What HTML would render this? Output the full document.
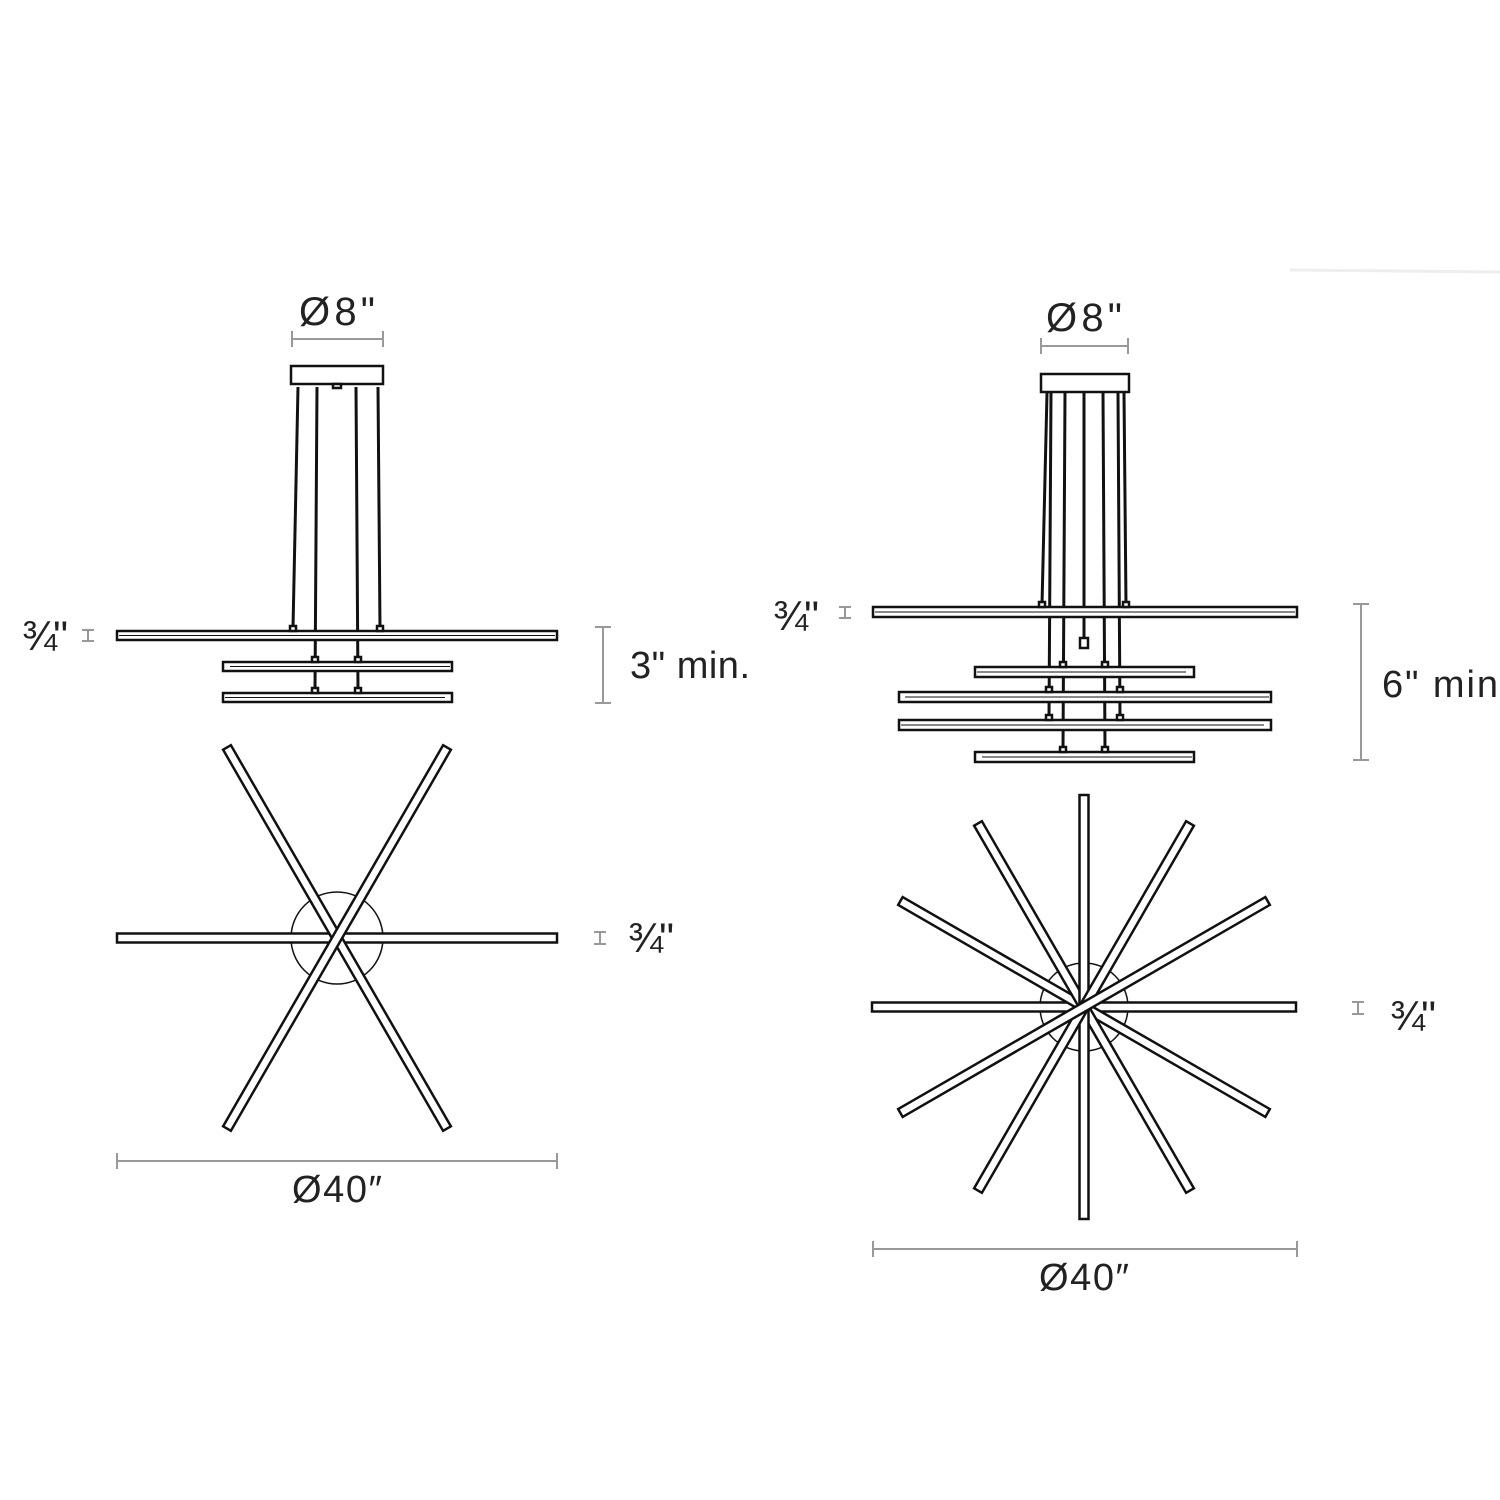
<!DOCTYPE html>
<html><head><style>html,body{margin:0;padding:0;background:#fff}svg{display:block}text{font-family:"Liberation Sans",sans-serif;fill:#222}</style></head>
<body>
<svg width="1500" height="1500" viewBox="0 0 1500 1500" xmlns="http://www.w3.org/2000/svg">
<line x1="1290" y1="270" x2="1500" y2="272" stroke="#eee" stroke-width="3"/>
<g stroke="#999" stroke-width="2" fill="none">
<path d="M292 339H383M292 331v16M383 331v16"/>
<path d="M603 627v76M595 627h16M595 703h16"/>
<path d="M88 630v11M82 630h12M82 641h12"/>
<path d="M600 932v12M594 932h12M594 944h12"/>
<path d="M117 1161H557M117 1153v16M557 1153v16"/>
<path d="M1041 346H1128M1041 338v16M1128 338v16"/>
<path d="M1361 604v156M1353 604h16M1353 760h16"/>
<path d="M845 607v11M839 607h12M839 618h12"/>
<path d="M1358 1002v12M1352 1002h12M1352 1014h12"/>
<path d="M873 1249H1297M873 1241v16M1297 1241v16"/>
</g>
<g font-size="38">
<text x="337" y="325" text-anchor="middle" textLength="76" font-size="40">Ø8"</text>
<text x="1084" y="331" text-anchor="middle" textLength="76" font-size="40">Ø8"</text>
<text x="630" y="678" textLength="120">3" min.</text>
<text x="1382" y="697" textLength="116">6" min</text>
<text x="22" y="650" font-size="42" textLength="46">¾"</text>
<text x="773" y="630" font-size="42" textLength="46">¾"</text>
<text x="628" y="952" font-size="42" textLength="46">¾"</text>
<text x="1390" y="1030" font-size="42" textLength="46">¾"</text>
<text x="337" y="1202" text-anchor="middle" textLength="90">Ø40″</text>
<text x="1084" y="1290" text-anchor="middle" textLength="90">Ø40″</text>
</g>
<g stroke="#111" stroke-width="2.5" fill="#fff">
<rect x="291" y="366" width="92" height="18"/>
<rect x="333" y="384" width="8" height="4"/>
<path d="M298 387L293 628M317 387L315 690M356 387L358 690M378 387L380 628" fill="none" stroke-width="3"/>
<rect x="117" y="631" width="440" height="9"/>
<line x1="119" y1="635.5" x2="555" y2="635.5" stroke-width="1"/>
<rect x="223" y="662" width="229" height="9"/>
<line x1="230" y1="666.5" x2="450" y2="666.5" stroke-width="1"/>
<rect x="223" y="693" width="229" height="9"/>
<line x1="225" y1="697.5" x2="445" y2="697.5" stroke-width="1"/>
<rect x="290" y="626" width="6" height="5"/><rect x="377" y="626" width="6" height="5"/>
<rect x="312" y="657" width="6" height="5"/><rect x="355" y="657" width="6" height="5"/>
<rect x="312" y="688" width="6" height="5"/><rect x="355" y="688" width="6" height="5"/>
<rect x="1041" y="374" width="88" height="18"/>
<path d="M1047 393L1042 605M1051 393L1049 718M1065 393L1063 750M1084 393L1084 638M1103 393L1105 750M1118 393L1120 718M1124 393L1126 605" fill="none" stroke-width="3"/>
<rect x="1080" y="638" width="8" height="10"/>
<rect x="873" y="607" width="424" height="10"/>
<line x1="875" y1="612" x2="1295" y2="612" stroke-width="1"/>
<rect x="975" y="667" width="219" height="10"/>
<line x1="977" y1="672" x2="1186" y2="672" stroke-width="1"/>
<rect x="899" y="692" width="372" height="10"/>
<line x1="905" y1="697" x2="1269" y2="697" stroke-width="1"/>
<rect x="899" y="720" width="372" height="10"/>
<line x1="901" y1="725" x2="1264" y2="725" stroke-width="1"/>
<rect x="975" y="752" width="219" height="10"/>
<line x1="982" y1="757" x2="1192" y2="757" stroke-width="1"/>
<rect x="1039" y="602" width="6" height="5"/><rect x="1123" y="602" width="6" height="5"/>
<rect x="1060" y="662" width="6" height="5"/><rect x="1102" y="662" width="6" height="5"/>
<rect x="1046" y="687" width="6" height="5"/><rect x="1117" y="687" width="6" height="5"/>
<rect x="1046" y="715" width="6" height="5"/><rect x="1117" y="715" width="6" height="5"/>
<rect x="1060" y="747" width="6" height="5"/><rect x="1102" y="747" width="6" height="5"/>
<circle cx="337" cy="938" r="46" stroke-width="1.5"/>
<g transform="translate(337 938)">
<rect x="-220" y="-4.5" width="440" height="9"/>
<rect x="-220" y="-4.5" width="440" height="9" transform="rotate(60)"/>
<rect x="-220" y="-4.5" width="440" height="9" transform="rotate(120)"/>
</g>
<circle cx="1084" cy="1007" r="44" stroke-width="1.5"/>
<g transform="translate(1084 1007)">
<rect x="-212" y="-4.5" width="424" height="9"/>
<rect x="-212" y="-4.5" width="424" height="9" transform="rotate(30)"/>
<rect x="-212" y="-4.5" width="424" height="9" transform="rotate(60)"/>
<rect x="-212" y="-4.5" width="424" height="9" transform="rotate(90)"/>
<rect x="-212" y="-4.5" width="424" height="9" transform="rotate(120)"/>
<rect x="-212" y="-4.5" width="424" height="9" transform="rotate(150)"/>
</g>
</g>
</svg>
</body></html>
